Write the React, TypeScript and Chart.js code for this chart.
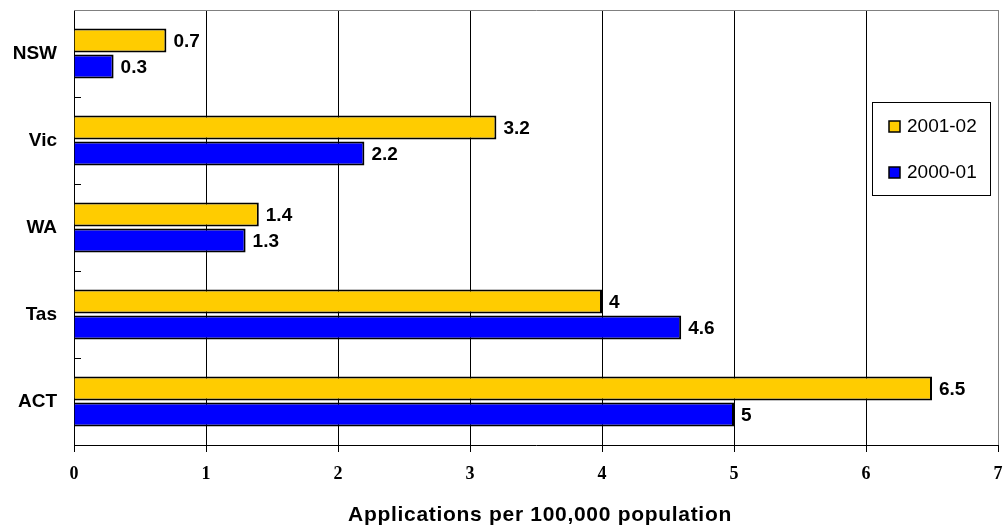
import React, { useEffect, useRef } from "react";
import { Chart, registerables } from "chart.js";

Chart.register(...registerables);

const categories = ["NSW", "Vic", "WA", "Tas", "ACT"];
const series2001_02 = [0.7, 3.2, 1.4, 4, 6.5];
const series2000_01 = [0.3, 2.2, 1.3, 4.6, 5];
const seriesLabels = ["2001-02", "2000-01"];
const xTickMax = 7;
const axisTitle = "Applications per 100,000 population";

const SANS = '"Liberation Sans", Arial, sans-serif';
const SERIF = '"Liberation Serif", "Times New Roman", serif';
const YELLOW = "#FFCC00";
const BLUE = "#0000FF";

const decorPlugin = {
  id: "decor",
  beforeDatasetsDraw(chart: any) {
    const { ctx, chartArea } = chart;
    const y = chart.scales.y;
    ctx.save();
    ctx.strokeStyle = "#808080";
    ctx.lineWidth = 1;
    ctx.beginPath();
    ctx.moveTo(chartArea.left, chartArea.top + 0.5);
    ctx.lineTo(chartArea.right + 0.5, chartArea.top + 0.5);
    ctx.lineTo(chartArea.right + 0.5, chartArea.bottom);
    ctx.stroke();
    ctx.strokeStyle = "#000";
    ctx.beginPath();
    for (let i = 0; i < categories.length - 1; i++) {
      const p = Math.round((y.getPixelForValue(i) + y.getPixelForValue(i + 1)) / 2) + 0.5;
      ctx.moveTo(chartArea.left, p);
      ctx.lineTo(chartArea.left + 7, p);
    }
    ctx.stroke();
    ctx.restore();
  },
  afterDatasetsDraw(chart: any) {
    const { ctx, chartArea } = chart;
    ctx.save();
    ctx.font = `bold 19px ${SANS}`;
    ctx.fillStyle = "#000";
    ctx.textBaseline = "middle";
    ctx.textAlign = "left";
    chart.data.datasets.forEach((ds: any, di: number) => {
      const meta = chart.getDatasetMeta(di);
      meta.data.forEach((bar: any, i: number) => {
        ctx.fillText(String(ds.data[i]), bar.x + 7, bar.y + 1);
      });
    });
    // legend
    const bx = chartArea.right - 126;
    const by = chartArea.top + 92;
    const bw = 118;
    const bh = 93;
    ctx.fillStyle = "#fff";
    ctx.fillRect(bx, by, bw, bh);
    ctx.strokeStyle = "#000";
    ctx.lineWidth = 1;
    ctx.strokeRect(bx + 0.5, by + 0.5, bw, bh);
    const colors = [YELLOW, BLUE];
    seriesLabels.forEach((lab, i) => {
      const cy = by + 24 + i * 46;
      ctx.fillStyle = colors[i];
      ctx.fillRect(bx + 17, cy - 5, 11, 11);
      ctx.strokeStyle = "#000";
      ctx.lineWidth = 1.5;
      ctx.strokeRect(bx + 17, cy - 5, 11, 11);
      ctx.fillStyle = "#000";
      ctx.font = `19px ${SANS}`;
      ctx.textBaseline = "middle";
      ctx.fillText(lab, bx + 35, cy + 1);
    });
    // axis title
    ctx.font = `bold 21px ${SANS}`;
    (ctx as any).letterSpacing = "0.7px";
    ctx.textAlign = "center";
    ctx.textBaseline = "middle";
    ctx.fillStyle = "#000";
    ctx.fillText(axisTitle, (chartArea.left + chartArea.right) / 2 + 4, 515);
    ctx.restore();
  },
};

export default function App() {
  const ref = useRef<HTMLCanvasElement | null>(null);
  useEffect(() => {
    document.body.style.margin = "0";
    const canvas = ref.current;
    if (!canvas) return;
    const zeroPad = (scale: any) => {
      scale.paddingTop = 0;
      scale.paddingBottom = 0;
      scale.paddingLeft = 0;
      scale.paddingRight = 0;
    };
    const chart = new Chart(canvas, {
      type: "bar",
      data: {
        labels: categories,
        datasets: [
          {
            label: seriesLabels[0],
            data: series2001_02,
            backgroundColor: YELLOW,
            borderColor: "#000",
            borderWidth: 2,
            categoryPercentage: 0.6,
            barPercentage: 0.92,
          },
          {
            label: seriesLabels[1],
            data: series2000_01,
            backgroundColor: BLUE,
            borderColor: "#000",
            borderWidth: 2,
            categoryPercentage: 0.6,
            barPercentage: 0.92,
          },
        ],
      },
      options: {
        indexAxis: "y",
        responsive: false,
        animation: false,
        layout: { padding: { top: 10, right: 7, left: 0, bottom: 0 } },
        plugins: {
          legend: { display: false },
          tooltip: { enabled: false },
          title: { display: false },
        },
        scales: {
          x: {
            min: 0,
            max: xTickMax,
            ticks: {
              stepSize: 1,
              color: "#000",
              font: { family: SERIF, size: 18, weight: "bold" },
              padding: 12,
            },
            grid: {
              color: (c: any) => (c.tick && c.tick.value === xTickMax ? "#808080" : "#000"),
              lineWidth: 1,
              tickLength: 7,
              tickColor: "#000",
            },
            border: { color: "#000", width: 1 },
            afterFit(scale: any) {
              scale.height = 84;
              zeroPad(scale);
            },
          },
          y: {
            grid: { display: false },
            border: { color: "#000", width: 1 },
            ticks: {
              color: "#000",
              font: { family: SANS, size: 19, weight: "bold" },
              padding: 9,
            },
            afterFit(scale: any) {
              scale.width = 74;
              zeroPad(scale);
            },
          },
        },
      },
      plugins: [decorPlugin],
    } as any);
    return () => chart.destroy();
  }, []);
  return <canvas ref={ref} width={1005} height={529} style={{ display: "block" }} />;
}
